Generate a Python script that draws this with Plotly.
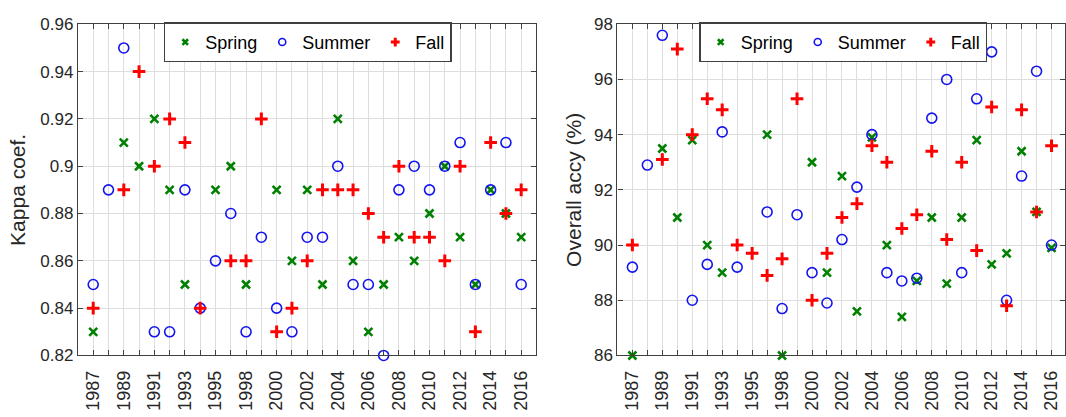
import plotly.graph_objects as go

# Acquisition years (one season triple per year); 1997 has no scene
years = ["1987", "1988", "1989", "1990", "1991", "1992", "1993", "1994", "1995",
         "1996", "1998", "1999", "2000", "2001", "2002", "2003", "2004", "2005",
         "2006", "2007", "2008", "2009", "2010", "2011", "2012", "2013", "2014",
         "2015", "2016"]

# Kappa coefficient per season
kappa_spring = [0.83, None, 0.91, 0.90, 0.92, 0.89, 0.85, None, 0.89, 0.90,
                0.85, None, 0.89, 0.86, 0.89, 0.85, 0.92, 0.86, 0.83, 0.85,
                0.87, 0.86, 0.88, 0.90, 0.87, 0.85, 0.89, 0.88, 0.87]
kappa_summer = [0.85, 0.89, 0.95, None, 0.83, 0.83, 0.89, 0.84, 0.86, 0.88,
                0.83, 0.87, 0.84, 0.83, 0.87, 0.87, 0.90, 0.85, 0.85, 0.82,
                0.89, 0.90, 0.89, 0.90, 0.91, 0.85, 0.89, 0.91, 0.85]
kappa_fall = [0.84, None, 0.89, 0.94, 0.90, 0.92, 0.91, 0.84, None, 0.86,
              0.86, 0.92, 0.83, 0.84, 0.86, 0.89, 0.89, 0.89, 0.88, 0.87,
              0.90, 0.87, 0.87, 0.86, 0.90, 0.83, 0.91, 0.88, 0.89]

# Overall accuracy (%) per season
oa_spring = [86.0, None, 93.5, 91.0, 93.8, 90.0, 89.0, None, None, 94.0,
             86.0, None, 93.0, 89.0, 92.5, 87.6, 93.9, 90.0, 87.4, 88.7,
             91.0, 88.6, 91.0, 93.8, 89.3, 89.7, 93.4, 91.2, 89.9]
oa_summer = [89.2, 92.9, 97.6, None, 88.0, 89.3, 94.1, 89.2, None, 91.2,
             87.7, 91.1, 89.0, 87.9, 90.2, 92.1, 94.0, 89.0, 88.7, 88.8,
             94.6, 96.0, 89.0, 95.3, 97.0, 88.0, 92.5, 96.3, 90.0]
oa_fall = [90.0, None, 93.1, 97.1, 94.0, 95.3, 94.9, 90.0, 89.7, 88.9,
           89.5, 95.3, 88.0, 89.7, 91.0, 91.5, 93.6, 93.0, 90.6, 91.1,
           93.4, 90.2, 93.0, 89.8, 95.0, 87.8, 94.9, 91.2, 93.6]

kappa_ticks = [0.82, 0.84, 0.86, 0.88, 0.90, 0.92, 0.94, 0.96]
kappa_ticktext = ["0.82", "0.84", "0.86", "0.88", "0.9", "0.92", "0.94", "0.96"]
oa_ticks = [86, 88, 90, 92, 94, 96, 98]

W, H = 1066, 417
x_idx = list(range(len(years)))
x_ticktext = [y if i % 2 == 0 else "" for i, y in enumerate(years)]

GREEN = "rgb(0,128,0)"
BLUE = "rgb(20,20,240)"
RED = "rgb(255,0,0)"
FONT = "Liberation Sans, Arial, sans-serif"
TXT = "#262626"

def marker_style(name, scale=1.0):
    if name == "Spring":
        return dict(symbol="x-thin", size=8 * scale, color=GREEN,
                    line=dict(width=2.6, color=GREEN))
    if name == "Summer":
        return dict(symbol="circle-open", size=10 * scale, color=BLUE,
                    line=dict(width=1.6, color=BLUE))
    return dict(symbol="cross-thin", size=9 * scale, color=RED,
                line=dict(width=3.0, color=RED))

fig = go.Figure()

panels = [
    ("x", "y", "legend", [kappa_spring, kappa_summer, kappa_fall]),
    ("x2", "y2", "legend2", [oa_spring, oa_summer, oa_fall]),
]
for xa, ya, lg, series in panels:
    for name, vals in zip(["Spring", "Summer", "Fall"], series):
        fig.add_trace(go.Scatter(
            x=x_idx, y=vals, mode="markers", name=name,
            marker=marker_style(name), xaxis=xa, yaxis=ya,
            showlegend=False, cliponaxis=False,
        ))
    # Legend keys use slightly smaller symbols
    for name in ["Spring", "Summer", "Fall"]:
        fig.add_trace(go.Scatter(
            x=[None], y=[None], mode="markers", name=name,
            marker=marker_style(name, 0.7), xaxis=xa, yaxis=ya,
            legend=lg, showlegend=True,
        ))

def px_x(p):
    return p / W

def px_y(p):
    return 1 - p / H

common_x = dict(
    tickmode="array", tickvals=x_idx, ticktext=x_ticktext, tickangle=-90,
    ticks="inside", ticklen=5, tickcolor="#404040", showline=True,
    linecolor="#404040", linewidth=1.3, mirror="ticks", showgrid=True,
    gridcolor="rgb(222,222,222)", gridwidth=1, zeroline=False,
    ticklabelstandoff=7,
    tickfont=dict(family=FONT, size=18, color=TXT),
)
common_y = dict(
    ticks="inside", ticklen=5, tickcolor="#404040", showline=True,
    linecolor="#404040", linewidth=1.3, mirror="ticks", showgrid=True,
    gridcolor="rgb(222,222,222)", gridwidth=1, zeroline=False,
    tickfont=dict(family=FONT, size=17, color=TXT),
)

legend_common = dict(
    orientation="h", yanchor="top", xanchor="center",
    bgcolor="white", bordercolor="#404040", borderwidth=1.5,
    font=dict(family=FONT, size=18, color="black"),
    itemwidth=30, tracegroupgap=0,
)

y_dom = [px_y(363), px_y(16)]
fig.update_layout(
    width=W, height=H,
    margin=dict(l=0, r=0, t=0, b=0),
    paper_bgcolor="white", plot_bgcolor="white",
    font=dict(family=FONT, color=TXT),
    xaxis=dict(domain=[px_x(78), px_x(537)], range=[-1, 29], anchor="y", **common_x),
    yaxis=dict(domain=y_dom, range=[0.82, 0.96], anchor="x",
               tickmode="array", tickvals=kappa_ticks, ticktext=kappa_ticktext,
               title=dict(text="Kappa coef.", font=dict(family=FONT, size=21, color=TXT), standoff=8),
               **common_y),
    xaxis2=dict(domain=[px_x(618), 1.0], range=[-1, 28.9], anchor="y2", **common_x),
    yaxis2=dict(domain=y_dom, range=[86, 98], anchor="x2",
                tickmode="array", tickvals=oa_ticks,
                title=dict(text="Overall accy (%)", font=dict(family=FONT, size=21, color=TXT), standoff=6),
                **common_y),
    legend=dict(x=px_x(308), y=px_y(14), **legend_common),
    legend2=dict(x=px_x(844), y=px_y(14), **legend_common),
)

fig.write_html("out.html")
